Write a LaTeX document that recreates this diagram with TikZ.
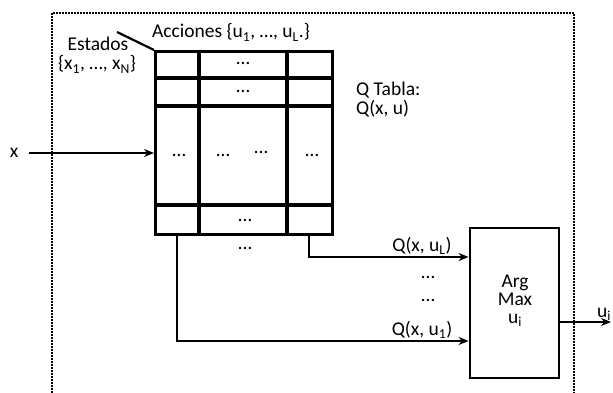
\documentclass[tikz,border=0pt]{standalone}
\usepackage{fontspec}
\setmainfont{Carlito}
\usetikzlibrary{arrows.meta}
\begin{document}
\begin{tikzpicture}[x=1pt,y=-1pt,
  every node/.style={font=\fontsize{19.5}{20}\selectfont, inner sep=0pt},
  frame/.style={line width=1.8pt, dash pattern=on 2pt off 1pt},
  tabline/.style={line width=3.4pt},
  arr/.style={line width=2.6pt, -{Stealth[length=10pt,width=8pt]}},
  lbl/.style={anchor=base}]
\useasboundingbox (0,0) rectangle (613,393);
% frame
\draw[frame] (52,393) -- (52,13) -- (574,13) -- (574,393);
% table
\node[draw, tabline, minimum width=177pt, minimum height=183pt, anchor=north west] (tab) at (154,50) {};
\draw[tabline] (199,50) -- (199,233) (287,50) -- (287,233);
\draw[tabline] (154,78) -- (331,78) (154,106) -- (331,106) (154,205) -- (331,205);
% dots in table
\node (d1) at (243,63) {…};
\node (d2) at (243,91) {…};
\node (d3) at (179,155) {…};
\node (d4) at (223,155) {…};
\node (d5) at (261,152) {…};
\node (d6) at (312,155) {…};
\node (d7) at (245,220) {…};
\node (d8) at (245,248) {…};
% header labels
\node[lbl] (acc) at (231,38) {Acciones \{u\textsubscript{1}, …, u\textsubscript{L}.\}};
\node[lbl] (est1) at (98,51) {Estados};
\node[lbl] (est2) at (97,70) {\{x\textsubscript{1}, …, x\textsubscript{N}\}};
\coordinate (diag) at (117,32);
\draw[line width=2.2pt] (diag) -- (tab.north west);
\node[anchor=base west] (qt1) at (356,96) {Q Tabla:};
\node[anchor=base west] (qt2) at (356,115) {Q(x, u)};
% input
\node (xl) at (14,153) {x};
\coordinate (xin) at (29,153);
\draw[arr] (xin) -- (xin -| tab.west);
% ArgMax
\node[draw, line width=2.8pt, minimum width=89pt, minimum height=150pt] (am) at (514.5,303) {};
\node[lbl] (am1) at (515,287) {Arg};
\node[lbl] (am2) at (515,305) {Max};
\node[lbl] (am3) at (515,323) {u\textsubscript{i}};
\coordinate (cL) at (309,233);
\coordinate (c1) at (177,233);
\draw[arr] (cL) |- (am.west |- 0,257);
\draw[arr] (c1) |- (am.west |- 0,341);
\node[lbl] (qL) at (422,251) {Q(x, u\textsubscript{L})};
\node[lbl] (q1) at (422,335) {Q(x, u\textsubscript{1})};
\node (d9) at (428,277) {…};
\node (d10) at (428,300) {…};
% output
\coordinate (out) at (611,322);
\draw[arr] (am.east |- 0,322) -- (out);
\node[anchor=base west] (ui) at (597,317) {u\textsubscript{i}};
\end{tikzpicture}
\end{document}
